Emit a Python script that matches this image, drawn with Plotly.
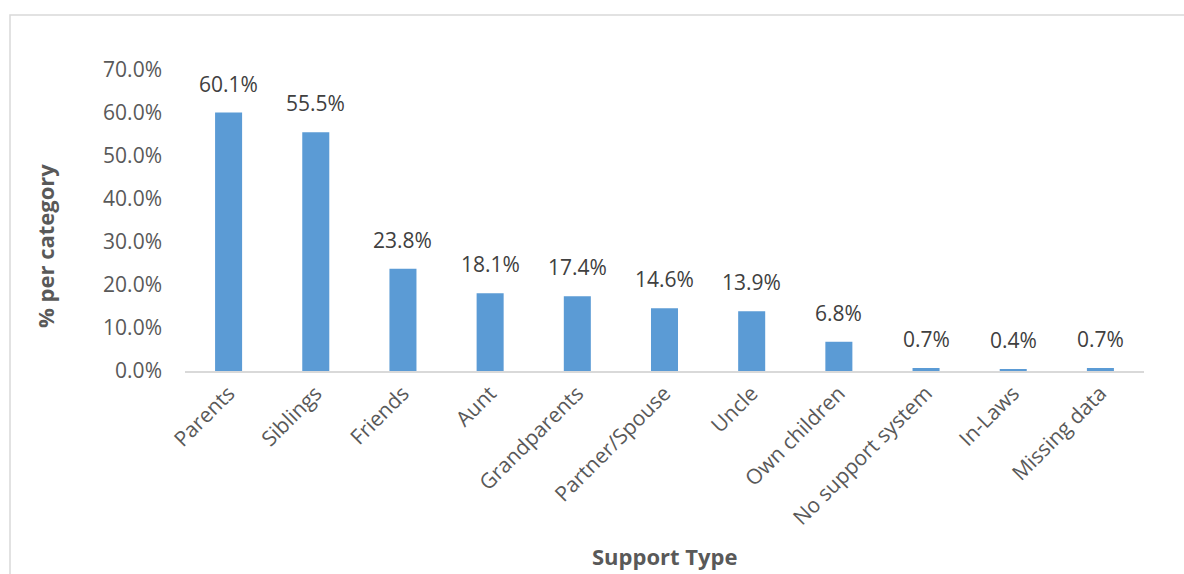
import plotly.graph_objects as go

# Support type distribution (% of respondents per category)
categories = ["Parents", "Siblings", "Friends", "Aunt", "Grandparents", "Partner/Spouse",
              "Uncle", "Own children", "No support system", "In-Laws", "Missing data"]
values = [60.1, 55.5, 23.8, 18.1, 17.4, 14.6, 13.9, 6.8, 0.7, 0.4, 0.7]
y_ticks = [0, 10, 20, 30, 40, 50, 60, 70]

FONT = "Open Sans, DejaVu Sans, sans-serif"
W, H = 1184, 574
L, R, T, B = 185, 40, 70, 203
pw, ph = W - L - R, H - T - B

fig = go.Figure()
fig.add_trace(go.Bar(
    x=categories, y=values,
    marker=dict(color="#5B9BD5", line=dict(width=0)),
    width=0.31,
    hoverinfo="x+y",
))

annotations = []
for c, v in zip(categories, values):
    annotations.append(dict(
        x=c, y=v, xref="x", yref="y", text=f"{v:.1f}%", showarrow=False,
        yanchor="bottom", yshift=13, font=dict(family=FONT, size=21, color="#404040"),
    ))

# axis titles
annotations.append(dict(
    x=(45 - L) / pw, y=(H - B - 246) / ph, xref="paper", yref="paper",
    xanchor="center", yanchor="middle",
    text="<b>% per category</b>", textangle=-90, showarrow=False,
    font=dict(family=FONT, size=22, color="#595959"),
))
annotations.append(dict(
    x=0.5, y=(H - B - 556) / ph, xref="paper", yref="paper",
    xanchor="center", yanchor="middle",
    text="<b>Support Type</b>", showarrow=False,
    font=dict(family=FONT, size=22, color="#595959"),
))

fig.update_layout(
    width=W, height=H,
    margin=dict(l=L, r=R, t=T, b=B),
    paper_bgcolor="white", plot_bgcolor="white",
    showlegend=False,
    annotations=annotations,
    shapes=[dict(
        type="rect", xref="paper", yref="paper",
        x0=(10 - L) / pw, x1=(1300 - L) / pw,
        y0=(H - B - 700) / ph, y1=(H - B - 15) / ph,
        line=dict(color="#D9D9D9", width=1.5), fillcolor="rgba(0,0,0,0)", layer="below",
    )],
    xaxis=dict(
        showgrid=False, showline=True, linecolor="#D9D9D9", linewidth=1.5,
        tickangle=-45, tickfont=dict(family=FONT, size=21, color="#595959"),
        ticks="", zeroline=False,
    ),
    yaxis=dict(
        range=[0, 70], tickvals=y_ticks, ticktext=[f"{t:.1f}%" for t in y_ticks],
        showgrid=False, showline=False, zeroline=False, ticks="",
        ticklabelstandoff=22,
        tickfont=dict(family=FONT, size=21, color="#595959"),
    ),
)

fig.write_html("out.html")
